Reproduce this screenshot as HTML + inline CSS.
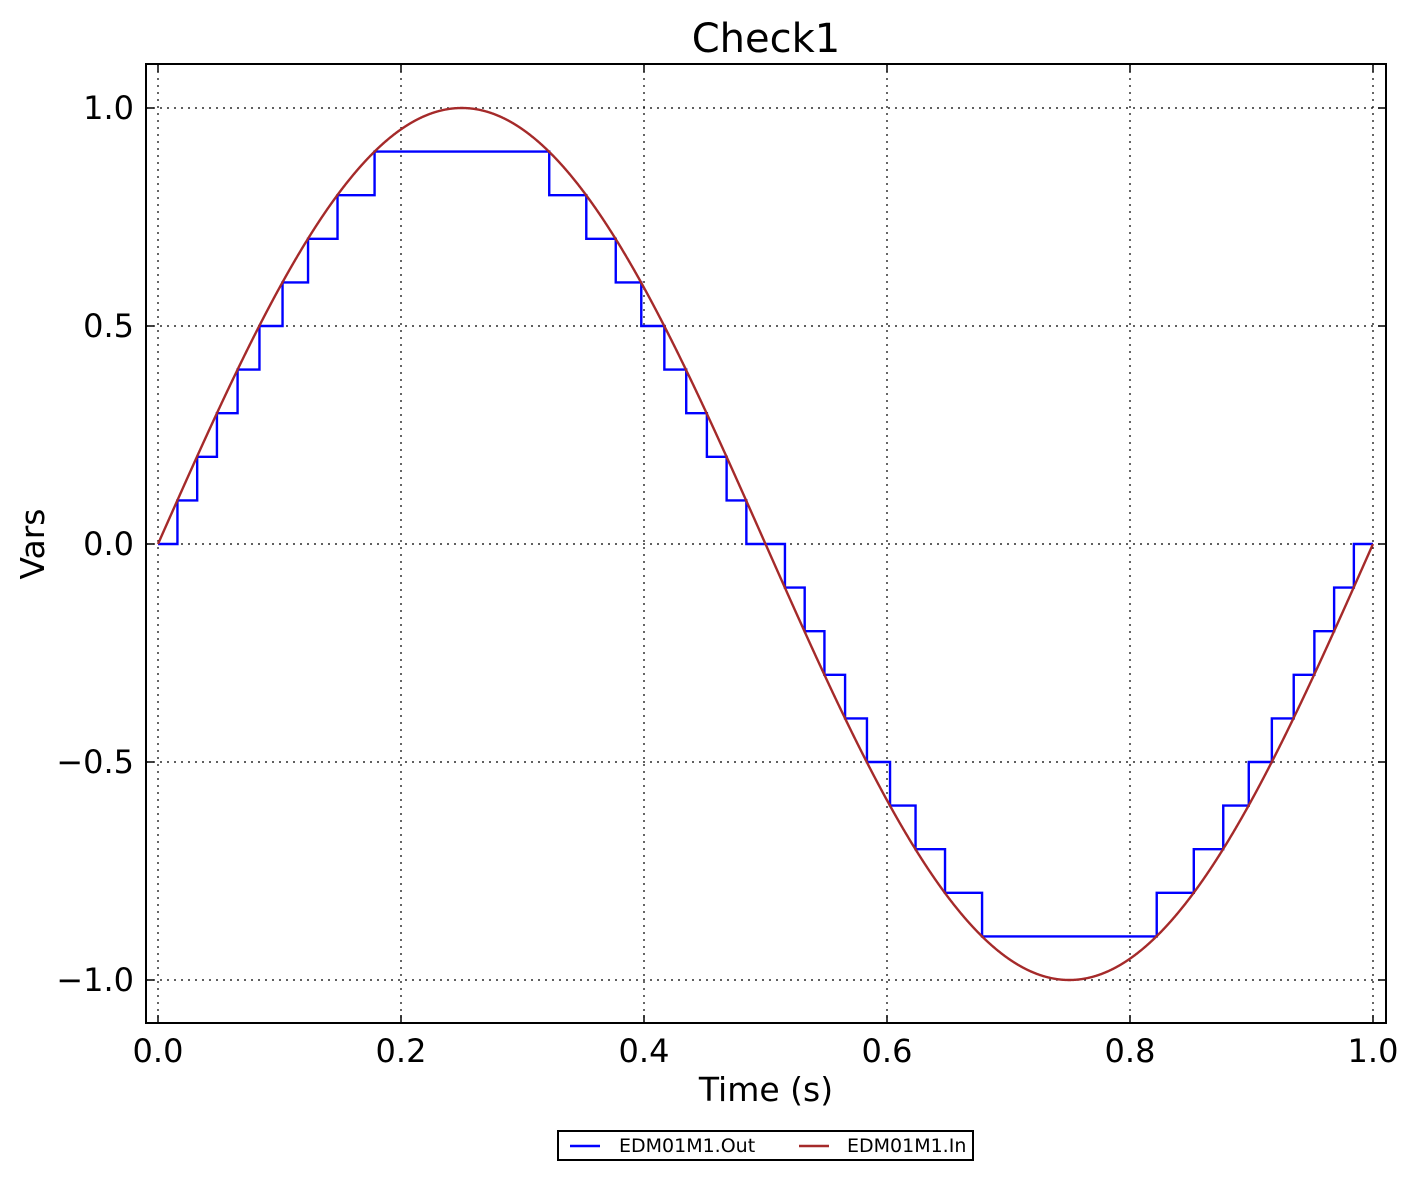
<!DOCTYPE html>
<html><head><meta charset="utf-8"><style>
html,body{margin:0;padding:0;background:#fff;}
svg{display:block;font-family:"DejaVu Sans","Liberation Sans",sans-serif;}
</style></head><body>
<svg id="s" width="1417" height="1180" viewBox="0 0 1417 1180" xmlns="http://www.w3.org/2000/svg">
<rect width="1417" height="1180" fill="#fff"/>
<g id="grid" stroke="#000" stroke-width="1.2" stroke-dasharray="2,5" fill="none">
<line x1="158" y1="64" x2="158" y2="1023"/>
<line x1="401" y1="64" x2="401" y2="1023"/>
<line x1="644" y1="64" x2="644" y2="1023"/>
<line x1="887" y1="64" x2="887" y2="1023"/>
<line x1="1130" y1="64" x2="1130" y2="1023"/>
<line x1="1373" y1="64" x2="1373" y2="1023"/>
<line x1="146" y1="108" x2="1386" y2="108"/>
<line x1="146" y1="326" x2="1386" y2="326"/>
<line x1="146" y1="544" x2="1386" y2="544"/>
<line x1="146" y1="762" x2="1386" y2="762"/>
<line x1="146" y1="980" x2="1386" y2="980"/>
</g>
<path id="step" fill="none" stroke="#0000ff" stroke-width="2.4" d=""/>
<path id="sine" fill="none" stroke="#a52a2a" stroke-width="2.4" d=""/>
<g stroke="#000" stroke-width="1.5">
<line x1="158" y1="64" x2="158" y2="72"/><line x1="158" y1="1023" x2="158" y2="1015"/>
<line x1="401" y1="64" x2="401" y2="72"/><line x1="401" y1="1023" x2="401" y2="1015"/>
<line x1="644" y1="64" x2="644" y2="72"/><line x1="644" y1="1023" x2="644" y2="1015"/>
<line x1="887" y1="64" x2="887" y2="72"/><line x1="887" y1="1023" x2="887" y2="1015"/>
<line x1="1130" y1="64" x2="1130" y2="72"/><line x1="1130" y1="1023" x2="1130" y2="1015"/>
<line x1="1373" y1="64" x2="1373" y2="72"/><line x1="1373" y1="1023" x2="1373" y2="1015"/>
<line x1="146" y1="108" x2="154" y2="108"/><line x1="1386" y1="108" x2="1378" y2="108"/>
<line x1="146" y1="326" x2="154" y2="326"/><line x1="1386" y1="326" x2="1378" y2="326"/>
<line x1="146" y1="544" x2="154" y2="544"/><line x1="1386" y1="544" x2="1378" y2="544"/>
<line x1="146" y1="762" x2="154" y2="762"/><line x1="1386" y1="762" x2="1378" y2="762"/>
<line x1="146" y1="980" x2="154" y2="980"/><line x1="1386" y1="980" x2="1378" y2="980"/>
</g>
<rect x="146" y="64" width="1240" height="959" fill="none" stroke="#000" stroke-width="2"/>
<g font-size="32" fill="#000" text-anchor="end">
<text x="134" y="119">1.0</text>
<text x="134" y="337">0.5</text>
<text x="134" y="555">0.0</text>
<text x="134" y="773">−0.5</text>
<text x="134" y="991">−1.0</text>
</g>
<g font-size="32" fill="#000" text-anchor="middle">
<text x="158" y="1062">0.0</text>
<text x="401" y="1062">0.2</text>
<text x="644" y="1062">0.4</text>
<text x="887" y="1062">0.6</text>
<text x="1130" y="1062">0.8</text>
<text x="1373" y="1062">1.0</text>
<text x="766" y="1101" font-size="33">Time (s)</text>
<text x="766" y="52" font-size="40">Check1</text>
<text transform="translate(44,544) rotate(-90)" font-size="33">Vars</text>
</g>
<rect x="558" y="1131" width="415" height="29" fill="#fff" stroke="#000" stroke-width="2"/>
<line x1="570" y1="1146" x2="600" y2="1146" stroke="#0000ff" stroke-width="2.4"/>
<line x1="799" y1="1146" x2="829" y2="1146" stroke="#a52a2a" stroke-width="2.4"/>
<g font-size="19" fill="#000">
<text x="619" y="1152">EDM01M1.Out</text>
<text x="847" y="1152">EDM01M1.In</text>
</g>
</svg>
<script>
var X=function(t){return 158+1215*t;},Y=function(v){return 544-436*v;};
var d="",s="",prev=null,N=4000;
for(var i=0;i<=N;i++){var t=i/N,v=Math.sin(2*Math.PI*t);
s+=(i?"L":"M")+X(t).toFixed(2)+" "+Y(v).toFixed(2);
var q=(v>=0?Math.floor(v*10+1e-9):Math.ceil(v*10-1e-9))/10;
if(q>0.9)q=0.9; if(q<-0.9)q=-0.9;
if(i==N)q=0;
if(prev===null){d="M"+X(t).toFixed(2)+" "+Y(q).toFixed(2);}
else if(q!==prev){d+="L"+X(t).toFixed(2)+" "+Y(prev).toFixed(2)+"L"+X(t).toFixed(2)+" "+Y(q).toFixed(2);}
prev=q;}
d+="L"+X(1).toFixed(2)+" "+Y(prev).toFixed(2);
document.getElementById("sine").setAttribute("d",s);
document.getElementById("step").setAttribute("d",d);
</script>
</body></html>
